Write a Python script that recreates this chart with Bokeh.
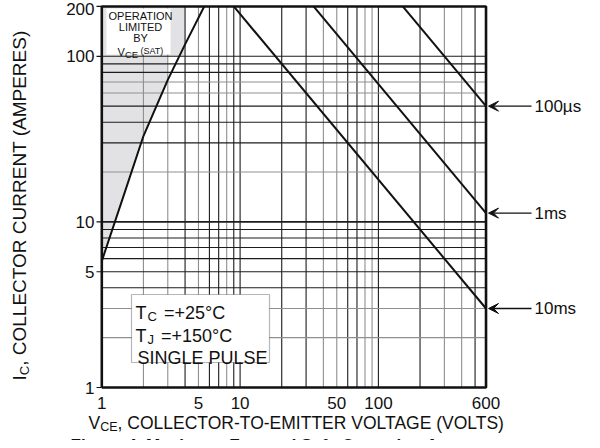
import math
from bokeh.plotting import figure
from bokeh.models import Label, BoxAnnotation, Arrow, VeeHead
from bokeh.embed import file_html
from bokeh.resources import INLINE

# ---------------- data ----------------
vsat_v = [1, 1.5, 2, 3, 4, 5.5]          # V_CE(sat) limit curve, volts
vsat_i = [5.8, 16, 33, 72, 118, 200]     # amperes

pulse_names = ["100µs", "1ms", "10ms"]
pulse_v = [[150, 600], [34, 600], [9, 600]]
pulse_i = [[200, 50], [200, 11.3], [200, 3.0]]

x_ticks = [1, 5, 10, 50, 100, 600]
x_tick_labels = ["1", "5", "10", "50", "100", "600"]
y_ticks = [1, 5, 10, 100, 200]
y_tick_labels = ["1", "5", "10", "100", "200"]
x_grid = [2, 3, 4, 5, 6, 7, 8, 9, 10, 20, 30, 40, 50, 60, 70, 80, 90, 100, 200, 300, 400, 500]
y_grid = [2, 3, 4, 5, 6, 7, 8, 9, 10, 20, 30, 40, 50, 60, 70, 80, 90, 100]
x_min, x_max = 1, 600
y_min, y_max = 1, 200

# ---------------- styles ----------------
INK = "#111111"
DARK = "#1c1c1c"
GRAY = "#8f8f8f"
x_grid_col = ["g", "g", "k", "g", "k", "k", "g", "k", "k", "k", "k", "g", "g", "k", "k",
              "g", "g", "k", "k", "g", "g", "k"]
y_grid_col = ["g", "g", "k", "k", "k", "k", "k", "k", "k", "g", "k", "k", "k", "g", "g",
              "k", "k", "k"]
FONT = "Liberation Sans"

# canvas-pixel helpers (layout only): log scale, px per decade
X0, DXP = 101.3, 138.3     # canvas px of V=1
Y0, DYP = 387.0, 165.6     # canvas px of I=1


def dx(cx):
    return 10 ** ((cx - X0) / DXP)


def dy(cy):
    return 10 ** ((Y0 - cy) / DYP)


W, H = 584, 440
p = figure(width=W, height=H, x_axis_type="log", y_axis_type="log",
           x_range=(dx(0), dx(W)), y_range=(dy(H), dy(0)),
           output_backend="svg", toolbar_location=None,
           min_border=0, min_border_left=0, min_border_right=0,
           min_border_top=0, min_border_bottom=0)
p.xaxis.visible = False
p.yaxis.visible = False
p.outline_line_color = None
p.grid.visible = False
p.background_fill_color = "white"
p.border_fill_color = "white"


def label(txt, cx, cy, fs, align="left", base="alphabetic", angle=0.0, style="normal"):
    p.add_layout(Label(x=dx(cx), y=dy(cy), text=txt, text_font=FONT, text_font_size=fs,
                       text_align=align, text_baseline=base, angle=angle,
                       text_font_style=style, text_color=INK))


# shaded region (left of saturation limit)
shade_x = [x_min, x_min, 4, 4, 3] + [v for v in reversed(vsat_v) if v <= 3]
shade_y = [vsat_i[0], y_max, y_max, 100, 100] + [i for v, i in reversed(list(zip(vsat_v, vsat_i))) if v <= 3]
p.patch(shade_x, shade_y, fill_color="#e2e2e4", line_color=None)

# grid
for g, c in zip(x_grid, x_grid_col):
    p.segment(x0=[g], y0=[y_min], x1=[g], y1=[y_max], line_color=DARK if c == "k" else GRAY,
              line_width=1.1)
for g, c in zip(y_grid, y_grid_col):
    p.segment(x0=[x_min], y0=[g], x1=[x_max], y1=[g], line_color=DARK if c == "k" else GRAY,
              line_width=1.8 if g == 10 else 1.1)

# frame
p.line([x_min, x_max, x_max, x_min, x_min], [y_min, y_min, y_max, y_max, y_min],
       line_color=INK, line_width=2.6)

# y tick marks (outside the frame)
p.segment(x0=[dx(96)] * len(y_ticks), y0=y_ticks, x1=[x_min] * len(y_ticks), y1=y_ticks,
          line_color=INK, line_width=1.2)

# tick labels
for t, s in zip(x_ticks, x_tick_labels):
    p.add_layout(Label(x=t, y=dy(402), text=s, text_font=FONT, text_font_size="17px",
                       text_align="center", text_baseline="middle", text_color=INK))
for t, s in zip(y_ticks, y_tick_labels):
    if t == y_max:
        p.add_layout(Label(x=dx(94), y=dy(2), text=s, text_font=FONT, text_font_size="17px",
                           text_align="right", text_baseline="top", text_color=INK))
    else:
        p.add_layout(Label(x=dx(94), y=t, text=s, text_font=FONT, text_font_size="17px",
                           text_align="right", text_baseline="middle", text_color=INK))

# curves
p.line(vsat_v, vsat_i, line_color=INK, line_width=2)
for vv, ii in zip(pulse_v, pulse_i):
    p.line(vv, ii, line_color=INK, line_width=2)

# arrows + pulse labels
for name, ii in zip(pulse_names, pulse_i):
    yv = ii[-1]
    p.add_layout(Arrow(end=VeeHead(size=10, fill_color=INK, line_color=INK, line_width=1),
                       x_start=dx(531), y_start=yv, x_end=dx(488), y_end=yv,
                       line_color=INK, line_width=1.3))
    p.add_layout(Label(x=dx(534), y=yv, text=name, text_font=FONT, text_font_size="17px",
                       text_align="left", text_baseline="middle", text_color=INK))

# "OPERATION LIMITED BY VCE(SAT)" box
p.add_layout(BoxAnnotation(left=dx(106), right=dx(170), top=dy(8), bottom=dy(54),
                           fill_color="white", fill_alpha=1, line_color=None))
for txt, cy in (("OPERATION", 15), ("LIMITED", 26), ("BY", 37)):
    label(txt, 140, cy, "11px", align="center", base="middle")
label("V", 117, 51, "11px")
label("CE", 124.5, 53.5, "9.5px")
label("(SAT)", 140, 50, "9px")

# conditions box
p.add_layout(BoxAnnotation(left=dx(131), right=dx(269), top=dy(294), bottom=dy(362),
                           fill_color="white", fill_alpha=1, line_color=INK, line_width=1.2))
label("T", 135, 312, "18px")
label("C", 147, 315.5, "13px")
label("=+25°C", 163.5, 312, "18px")
label("T", 135, 335, "18px")
label("J", 147, 338.5, "13px")
label("=+150°C", 160.5, 335, "18px")
label("SINGLE PULSE", 137, 357, "18px")

# x-axis title with subscript
label("V", 88, 422, "17.5px")
label("CE", 99.7, 426, "12.5px")
label(", COLLECTOR-TO-EMITTER VOLTAGE (VOLTS)", 117.1, 422, "17.5px")

# y-axis title (rotated) with subscript
ang = math.pi / 2
label("I", 19, 380, "19px", angle=ang)
label("C", 23.5, 374.7, "13px", angle=ang)
label(", COLLECTOR CURRENT (AMPERES)", 19, 365.3, "19px", angle=ang)

# figure caption (cut at the bottom edge, as in the reference)
label("Figure 4. Maximum Forward Safe Operating Area", 70, 445, "17px", style="bold")

open("out.html", "w").write(file_html(p, INLINE))
